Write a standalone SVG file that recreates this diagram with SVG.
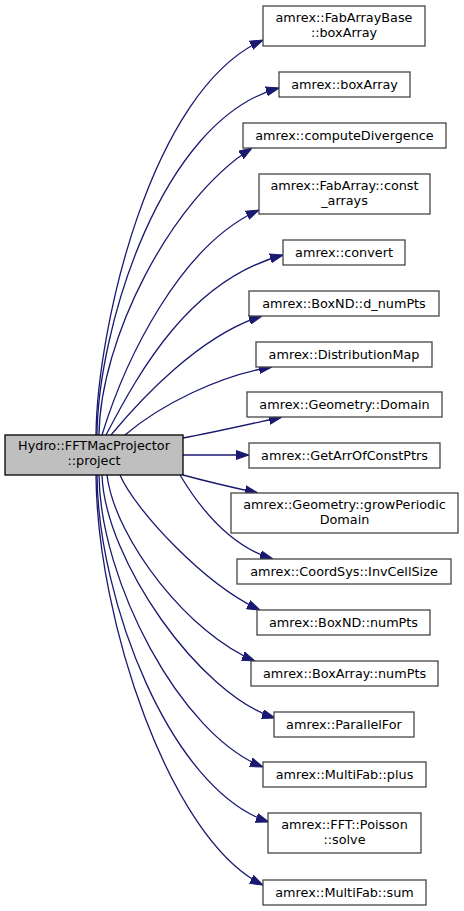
<svg xmlns="http://www.w3.org/2000/svg" width="464" height="911" viewBox="0 0 464 911">
<style>
.n rect{fill:#ffffff;stroke:#454545;stroke-width:1.3}
.m rect{fill:#bfbfbf;stroke:#000000;stroke-width:1.3}
text{font-family:"DejaVu Sans",sans-serif;font-size:12.8px;text-anchor:middle;fill:#000000}
.e path{fill:none;stroke:#191970;stroke-width:1.3;marker-end:url(#arr)}
</style>
<defs>
<marker id="arr" markerUnits="userSpaceOnUse" markerWidth="13" markerHeight="10" viewBox="0 0 13 10" refX="13" refY="5" orient="auto">
<path d="M0,0.5 L13,5 L0,9.5 z" fill="#191970" stroke="#191970" stroke-width="1"/>
</marker>
</defs>
<rect width="464" height="911" fill="#ffffff"/>
<g id="edges" class="e">
<path d="M96,435 C97,330 150,90 263,40"/>
<path d="M97,435 C98,330 160,120 279,88"/>
<path d="M99,435 C100,340 170,200 252,148"/>
<path d="M102,435 C125,360 180,245 259,210"/>
<path d="M106,435 C140,370 190,280 283,255"/>
<path d="M111,435 C140,400 200,335 262,316"/>
<path d="M125,435 C160,405 220,375 272,367"/>
<path d="M183,438 C215,432 250,424 282,417"/>
<path d="M183,455 L249,455"/>
<path d="M183,475 C205,481 235,488 258,493"/>
<path d="M180,475 C195,500 225,545 273,559"/>
<path d="M120,475 C135,510 205,585 260,610"/>
<path d="M107,475 C115,540 190,635 255,661"/>
<path d="M102,475 C105,560 200,695 275,718"/>
<path d="M99,475 C100,580 180,735 263,767"/>
<path d="M97,475 C98,600 170,790 269,822"/>
<path d="M96,475 C97,620 170,840 263,885"/>
</g>
<g id="main" class="m"><rect x="5" y="435" width="178" height="40"/><text x="94" y="450">Hydro::FFTMacProjector</text><text x="94" y="465">::project</text></g>
<g id="n1" class="n"><rect x="263" y="6" width="162" height="40"/><text x="344" y="21.5">amrex::FabArrayBase</text><text x="344" y="36.5">::boxArray</text></g>
<g id="n2" class="n"><rect x="279" y="72" width="131" height="25"/><text x="344.5" y="88.5">amrex::boxArray</text></g>
<g id="n3" class="n"><rect x="243" y="123" width="203" height="25"/><text x="344.5" y="139.5">amrex::computeDivergence</text></g>
<g id="n4" class="n"><rect x="259" y="174" width="171" height="40"/><text x="344.5" y="189.5">amrex::FabArray::const</text><text x="344.5" y="204.5">_arrays</text></g>
<g id="n5" class="n"><rect x="283" y="240" width="122" height="25"/><text x="344" y="256.5">amrex::convert</text></g>
<g id="n6" class="n"><rect x="249" y="291" width="190" height="25"/><text x="344" y="307.5">amrex::BoxND::d_numPts</text></g>
<g id="n7" class="n"><rect x="256" y="342" width="176" height="25"/><text x="344" y="358.5">amrex::DistributionMap</text></g>
<g id="n8" class="n"><rect x="247" y="392" width="195" height="25"/><text x="344.5" y="408.5">amrex::Geometry::Domain</text></g>
<g id="n9" class="n"><rect x="249" y="443" width="191" height="25"/><text x="344.5" y="459.5">amrex::GetArrOfConstPtrs</text></g>
<g id="n10" class="n"><rect x="231" y="493" width="227" height="40"/><text x="344.5" y="508.5">amrex::Geometry::growPeriodic</text><text x="344.5" y="523.5">Domain</text></g>
<g id="n11" class="n"><rect x="237" y="559" width="214" height="25"/><text x="344" y="575.5">amrex::CoordSys::InvCellSize</text></g>
<g id="n12" class="n"><rect x="257" y="610" width="173" height="25"/><text x="343.5" y="626.5">amrex::BoxND::numPts</text></g>
<g id="n13" class="n"><rect x="251" y="661" width="187" height="25"/><text x="344.5" y="677.5">amrex::BoxArray::numPts</text></g>
<g id="n14" class="n"><rect x="274" y="712" width="140" height="25"/><text x="344" y="728.5">amrex::ParallelFor</text></g>
<g id="n15" class="n"><rect x="263" y="762" width="163" height="25"/><text x="344.5" y="778.5">amrex::MultiFab::plus</text></g>
<g id="n16" class="n"><rect x="268" y="813" width="153" height="40"/><text x="344.5" y="828.5">amrex::FFT::Poisson</text><text x="344.5" y="843.5">::solve</text></g>
<g id="n17" class="n"><rect x="263" y="880" width="163" height="25"/><text x="344.5" y="896.5">amrex::MultiFab::sum</text></g>
</svg>
